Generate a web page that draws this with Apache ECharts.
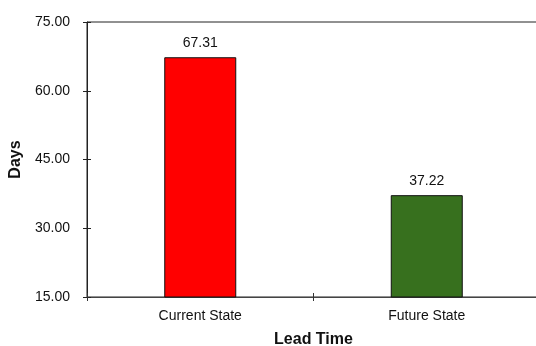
<!DOCTYPE html>
<html>
<head>
<meta charset="utf-8">
<script src="https://cdn.jsdelivr.net/npm/echarts@6/dist/echarts.min.js"></script>
<style>
  html, body { margin: 0; padding: 0; background: #fff; }
  #chart { width: 536px; height: 346px; }
</style>
</head>
<body>
<div id="chart"></div>
<script>
// Lead time comparison, days
const categories = ['Current State', 'Future State'];
const leadTimes = [67.31, 37.22];
const barColors = ['#FF0000', '#37701E'];

const FONT = 'Liberation Sans, Arial, sans-serif';

const chart = echarts.init(document.getElementById('chart'));

const baseY = {
  type: 'value',
  min: 15,
  max: 75,
  interval: 15,
  splitLine: { show: false }
};

chart.setOption({
  animation: false,
  backgroundColor: '#fff',
  grid: {
    left: 87, top: 22, bottom: 49, right: -4,
    outerBoundsMode: 'none',
    containLabel: false,
    show: true, borderColor: '#222', borderWidth: 1, backgroundColor: 'transparent'
  },
  xAxis: [
    {
      type: 'category',
      data: categories,
      name: 'Lead Time',
      nameLocation: 'middle',
      nameGap: 35,
      nameTextStyle: { fontFamily: FONT, fontSize: 16, fontWeight: 'bold', color: '#111' },
      axisLine: { lineStyle: { color: '#444', width: 1 } },
      axisTick: { show: true, length: 4, lineStyle: { color: '#333' } },
      axisLabel: { fontFamily: FONT, fontSize: 14, color: '#111', margin: 12 }
    },
    {
      // inside half of the crossing category ticks
      type: 'category',
      data: categories,
      position: 'bottom',
      axisLine: { show: false },
      axisTick: { show: true, inside: true, length: 4, lineStyle: { color: '#333' } },
      axisLabel: { show: false }
    }
  ],
  yAxis: [
    Object.assign({}, baseY, {
      name: 'Days',
      nameLocation: 'middle',
      nameGap: 61,
      nameTextStyle: { fontFamily: FONT, fontSize: 16, fontWeight: 'bold', color: '#111' },
      axisLine: { show: true, lineStyle: { color: '#222', width: 1 } },
      axisTick: { show: true, length: 4, lineStyle: { color: '#222' } },
      axisLabel: {
        fontFamily: FONT, fontSize: 14, color: '#111', margin: 17,
        formatter: v => v.toFixed(2)
      }
    }),
    Object.assign({}, baseY, {
      // inside half of the crossing value ticks
      position: 'left',
      axisLine: { show: false },
      axisTick: { show: true, inside: true, length: 4, lineStyle: { color: '#222' } },
      axisLabel: { show: false }
    })
  ],
  series: [{
    type: 'bar',
    barWidth: 72,
    data: leadTimes.map((v, i) => ({
      value: v,
      itemStyle: { color: barColors[i], borderColor: '#111', borderWidth: 1 }
    })),
    label: {
      show: true,
      position: 'top',
      distance: 7,
      fontFamily: FONT,
      fontSize: 14,
      color: '#111',
      formatter: p => p.value.toFixed(2)
    }
  }]
});
</script>
</body>
</html>
